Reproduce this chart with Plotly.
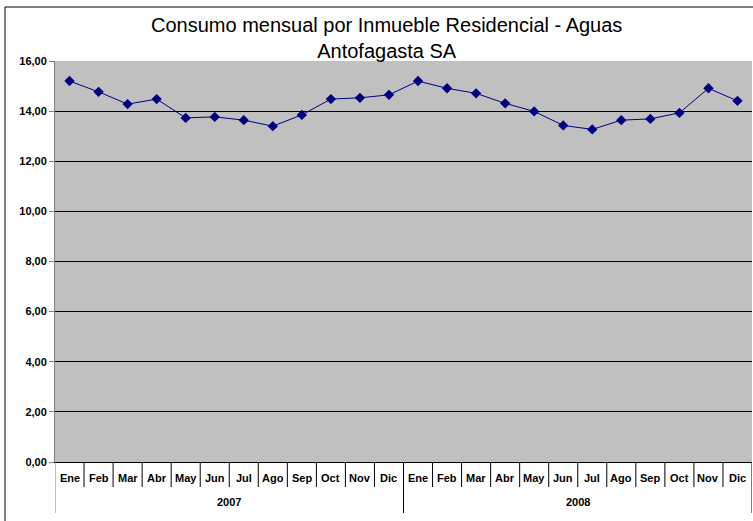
import plotly.graph_objects as go

years = ["2007", "2008"]
month_names = ["Ene", "Feb", "Mar", "Abr", "May", "Jun", "Jul", "Ago", "Sep", "Oct", "Nov", "Dic"]
months = month_names * 2
consumo = [15.20, 14.77, 14.28, 14.48, 13.73, 13.77, 13.64, 13.40, 13.85, 14.48, 14.53, 14.65,
           15.20, 14.91, 14.71, 14.31, 13.99, 13.43, 13.27, 13.64, 13.69, 13.93, 14.91, 14.41]
y_ticks = [0, 2, 4, 6, 8, 10, 12, 14, 16]

xs = list(range(len(consumo)))

fig = go.Figure(go.Scatter(
    x=xs, y=consumo, mode="lines+markers",
    line=dict(color="#000080", width=1),
    marker=dict(symbol="diamond", size=8, color="#000080"),
))

W, H = 753, 521
ml, mr, mt, mb = 55, 1, 61, 59
pw, ph = W - ml - mr, H - mt - mb

def py(px):  # pixel row -> paper y
    return (H - mb - px) / ph

def pxx(px):  # pixel column -> paper x
    return (px - ml) / pw

fig.update_layout(
    width=W, height=H, margin=dict(l=ml, r=mr, t=mt, b=mb, autoexpand=False),
    paper_bgcolor="white", plot_bgcolor="#C0C0C0",
    separators=",.", showlegend=False,
    font=dict(family="Liberation Sans, Arial", color="black"),
)
fig.update_yaxes(range=[0, 16], tickvals=y_ticks, tickformat=".2f", automargin=False,
                 showgrid=True, gridcolor="black", gridwidth=1,
                 showline=True, linecolor="#808080", linewidth=1,
                 ticks="outside", ticklen=5, tickcolor="#808080",
                 tickfont=dict(size=11, weight="bold"),
                 zeroline=False)
fig.update_xaxes(range=[-0.5, len(consumo) - 0.5], showticklabels=False, ticks="",
                 showline=True, linecolor="black", linewidth=1, automargin=False,
                 showgrid=False, zeroline=False)

# title
fig.add_annotation(text="Consumo mensual por Inmueble Residencial - Aguas<br>Antofagasta SA",
                   xref="paper", yref="paper", x=pxx(386), y=py(38),
                   xanchor="center", yanchor="middle", showarrow=False,
                   font=dict(size=20, color="black"))

# month labels and separators
for i, m in enumerate(months):
    fig.add_annotation(text=m, xref="x", yref="paper", x=i, y=py(478),
                       xanchor="center", yanchor="middle", showarrow=False,
                       font=dict(size=11, weight="bold"))
for i in range(1, len(months)):
    bottom = 513 if i % 12 == 0 else 487
    fig.add_shape(type="line", xref="x", yref="paper", x0=i - 0.5, x1=i - 0.5,
                  y0=0, y1=py(bottom), line=dict(color="black", width=1))
# left axis extension
fig.add_shape(type="line", xref="x", yref="paper", x0=-0.5, x1=-0.5,
              y0=0, y1=py(513), line=dict(color="#808080", width=1))
fig.add_shape(type="line", xref="x", yref="paper", x0=len(months) - 0.5, x1=len(months) - 0.5,
              y0=0, y1=py(513), line=dict(color="black", width=1))

# year labels
for k, yr in enumerate(years):
    fig.add_annotation(text=yr, xref="x", yref="paper", x=k * 12 + 5.5, y=py(502),
                       xanchor="center", yanchor="middle", showarrow=False,
                       font=dict(size=11, weight="bold"))

# outer chart border
fig.add_shape(type="rect", xref="paper", yref="paper",
              x0=pxx(5), x1=pxx(W + 10), y0=py(H + 10), y1=py(7),
              line=dict(color="black", width=1), fillcolor="rgba(0,0,0,0)", layer="below")

fig.write_html("out.html", config={"displayModeBar": False},
               post_script="document.body.style.margin='0';document.body.style.overflow='hidden';")
